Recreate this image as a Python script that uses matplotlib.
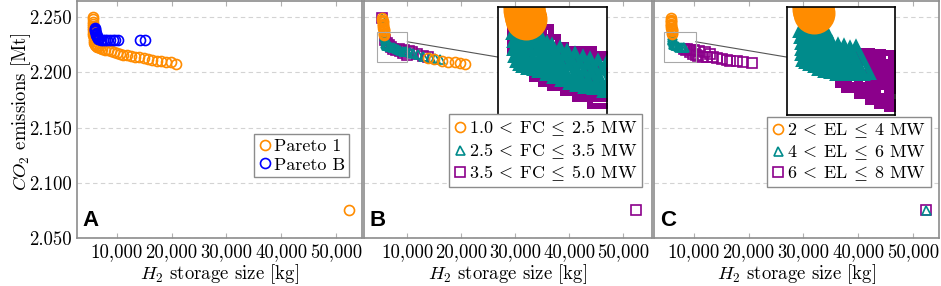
import matplotlib
matplotlib.use("Agg")
import matplotlib.pyplot as plt
from matplotlib.patches import Rectangle, ConnectionPatch
from matplotlib.ticker import FuncFormatter

plt.rcParams['font.family'] = ['cmr10', 'DejaVu Serif']
plt.rcParams['mathtext.fontset'] = 'cm'
plt.rcParams['axes.formatter.use_mathtext'] = True

# ---- data ----
pareto1_x = [5580, 5590, 5600, 5610, 5620, 5640, 5660, 5680, 5700, 5730, 5760, 5800, 5850,
             5920, 6000, 6150, 6350, 6600, 6900, 7300, 7800, 8300, 8900, 9450, 10000, 10600,
             11200, 11800, 12500, 13300, 14100, 14900, 15700, 16500, 17300, 18100, 19000,
             19900, 20850, 52400]
pareto1_y = [2.250, 2.248, 2.246, 2.244, 2.242, 2.240, 2.238, 2.236, 2.234, 2.232, 2.230, 2.228,
             2.2265, 2.2255, 2.2245, 2.2237, 2.223, 2.2225, 2.222, 2.2212, 2.2205, 2.220, 2.219,
             2.218, 2.2175, 2.217, 2.216, 2.2155, 2.215, 2.2142, 2.2135, 2.2128, 2.212, 2.2113,
             2.2107, 2.2104, 2.2097, 2.209, 2.208, 2.075]
paretoB_x = [6000, 6020, 6050, 6080, 6100, 6150, 6200, 6300, 6400, 6500, 6600, 6800, 7100, 7450,
             7800, 8250, 8730, 9200, 9640, 10240, 14180, 15090]
paretoB_y = [2.240, 2.239, 2.238, 2.237, 2.236, 2.235, 2.234, 2.233, 2.232, 2.231, 2.2305, 2.230,
             2.2295, 2.229, 2.229, 2.229, 2.229, 2.229, 2.229, 2.229, 2.229, 2.229]

# panel B: fuel cell size classes
fc1_x = [5350, 5380, 5410, 5440, 5470, 5500, 5530, 5560, 5590, 5620, 5650, 5680, 5710, 5750,
         13850, 15000, 16330, 17570, 18800, 19720, 20650]
fc1_y = [2.249, 2.2478, 2.2466, 2.2454, 2.2442, 2.243, 2.2418, 2.2406, 2.2394, 2.2382, 2.237,
         2.2358, 2.2346, 2.2335, 2.2128, 2.2118, 2.2104, 2.2097, 2.2092, 2.2088, 2.208]
fc2_x = [5350, 5750, 5790, 5830, 5870, 5950, 6100, 6300, 6550, 6850, 7130, 7500, 7900,
         8300, 8700, 9100, 9500, 9960, 10500, 11070, 12000, 12930, 14170, 15090, 16020]
fc2_y = [2.249, 2.233, 2.231, 2.229, 2.227, 2.2258, 2.225, 2.2245, 2.224, 2.2237,
         2.2234, 2.2226, 2.2218, 2.221, 2.2203, 2.2197, 2.2193, 2.219, 2.2182, 2.2172, 2.2162,
         2.2152, 2.214, 2.213, 2.212]
fc3_x = [5350, 5800, 6150, 6550, 6950, 7400, 7900, 8545, 9200, 9960, 8400, 9300,
         10200, 10900, 11700, 12930, 13850, 52400]
fc3_y = [2.249, 2.2297, 2.2270, 2.2245, 2.2226, 2.2212, 2.2202, 2.219, 2.2175, 2.2157,
         2.2215, 2.2203, 2.2192, 2.218, 2.2166, 2.215, 2.2135, 2.075]

# panel C: electrolyser size classes
el1_x = [5750, 5770, 5790, 5810, 5830, 5850, 5870, 5890, 5910, 5930, 5950, 5970, 6000]
el1_y = [2.249, 2.2478, 2.2466, 2.2454, 2.2442, 2.243, 2.2418, 2.2406, 2.2394, 2.2382, 2.237,
         2.236, 2.235]
el2_x = [5950, 6000, 6050, 6080, 6100, 6150, 6300, 6500, 6750, 7000, 7300, 7600,
         7950, 8250, 52400]
el2_y = [2.2335, 2.232, 2.2305, 2.229, 2.2275, 2.226, 2.2255, 2.225, 2.2245, 2.2238,
         2.2234, 2.223, 2.2226, 2.2228, 2.075]
el3_x = [8200, 8800, 9400, 10000, 8500, 9200, 9800, 10300, 11000, 12000,
         13000, 10800, 11500, 12300, 13530, 14300, 15060, 16000, 16590, 17800, 19030, 20560,
         52400]
el3_y = [2.221, 2.2208, 2.2206, 2.2205, 2.2198, 2.2183, 2.2168, 2.2157,
         2.2195, 2.218, 2.2165, 2.215, 2.2142, 2.2138, 2.2135, 2.2127, 2.212, 2.2112, 2.2105,
         2.2103, 2.2096, 2.2081, 2.075]

fc_labels = [r'$1.0\:<\:\mathrm{FC}\:\leq\:2.5$ MW', r'$2.5\:<\:\mathrm{FC}\:\leq\:3.5$ MW',
             r'$3.5\:<\:\mathrm{FC}\:\leq\:5.0$ MW']
el_labels = [r'$2\:<\:\mathrm{EL}\:\leq\:4$ MW', r'$4\:<\:\mathrm{EL}\:\leq\:6$ MW',
             r'$6\:<\:\mathrm{EL}\:\leq\:8$ MW']

ORANGE = '#ff8c00'
BLUE = '#0000ff'
TEAL = '#008b8b'
PURPLE = '#8b008b'
GRAY = '#8c8c8c'

MS = 7.2
MEW = 1.2
ZOOM = 3.6
FS = 13.5

fig = plt.figure(figsize=(9.41, 2.86), dpi=100)
bottom, height = 0.168, 0.83
ax_a = fig.add_axes([0.0818, bottom, 0.3029, height])
ax_b = fig.add_axes([0.3868, bottom, 0.306, height])
ax_c = fig.add_axes([0.695, bottom, 0.3029, height])


def style_axis(ax, show_y, xlim):
    ax.set_xlim(*xlim)
    ax.set_ylim(2.050, 2.265)
    ax.set_xticks([10000, 20000, 30000, 40000, 50000])
    ax.set_yticks([2.05, 2.10, 2.15, 2.20, 2.25])
    ax.xaxis.set_major_formatter(FuncFormatter(lambda v, p: f'{v:,.0f}'))
    ax.yaxis.set_major_formatter(FuncFormatter(lambda v, p: f'{v:.3f}'))
    ax.grid(axis='y', color='#d3d3d3', linestyle=(0, (4, 3)), linewidth=0.8)
    ax.set_axisbelow(True)
    for s in ax.spines.values():
        s.set_color(GRAY)
        s.set_linewidth(1.2)
    ax.tick_params(direction='in', length=3.5, color='#b0b0b0', labelsize=FS,
                   top=True, right=False, pad=4)
    ax.tick_params(axis='y', left=False)
    if not show_y:
        ax.tick_params(axis='y', labelleft=False)
    ax.set_xlabel(r'$H_2$ storage size [kg]', fontsize=FS)
    ax.xaxis.set_label_coords(0.5, -0.103)


def draw(ax, xs, ys, marker, color, label, scale=1.0, z=3):
    ms = MS * scale
    if marker == '^':
        ms = ms * 0.9
    elif marker == 's':
        ms = ms * 0.95
    ax.plot(xs, ys, linestyle='none', marker=marker, markersize=ms,
            markerfacecolor='none', markeredgecolor=color, markeredgewidth=MEW * scale,
            label=label, zorder=z)


def add_inset(ax, series, x0, x1, y0, y1):
    ins = ax.inset_axes([0.465, 0.517, 0.379, 0.454])
    for xs, ys, m, c, z in series:
        draw(ins, xs, ys, m, c, None, scale=ZOOM, z=z)
    ins.set_xlim(x0, x1)
    ins.set_ylim(y0, y1)
    ins.set_xticks([])
    ins.set_yticks([])
    for s in ins.spines.values():
        s.set_color('black')
        s.set_linewidth(1.2)
        s.set_zorder(10)
    ax.add_patch(Rectangle((x0, y0), x1 - x0, y1 - y0, fill=False,
                           edgecolor='#a8a8a8', linewidth=0.8, zorder=6))
    con = ConnectionPatch(xyA=(x1, 2.2277), coordsA=ax.transData,
                          xyB=(0, 0.54), coordsB=ins.transAxes,
                          color='#555555', linewidth=0.8)
    ax.add_artist(con)


def legend(ax, x, y):
    leg = ax.legend(loc='lower right', bbox_to_anchor=(x, y), fontsize=13,
                    handlelength=0.7, handletextpad=0.15, borderpad=0.25,
                    labelspacing=0.15, borderaxespad=0, fancybox=False,
                    framealpha=1, edgecolor=GRAY)
    leg.get_frame().set_linewidth(1.0)


def panel_letter(ax, letter):
    ax.text(0.02, 0.03, letter, transform=ax.transAxes, fontsize=16,
            fontweight='bold', family='Liberation Sans', ha='left', va='bottom')


# A
style_axis(ax_a, True, (2700, 54800))
draw(ax_a, pareto1_x, pareto1_y, 'o', ORANGE, 'Pareto 1')
draw(ax_a, paretoB_x, paretoB_y, 'o', BLUE, 'Pareto B')
ax_a.set_ylabel(r'$CO_2$ emissions [Mt]', fontsize=FS)
ax_a.yaxis.set_label_coords(-0.155, 0.534)
legend(ax_a, 0.955, 0.256)
panel_letter(ax_a, 'A')

# B
style_axis(ax_b, False, (1950, 55300))
draw(ax_b, fc1_x, fc1_y, 'o', ORANGE, fc_labels[0], z=5)
draw(ax_b, fc2_x, fc2_y, '^', TEAL, fc_labels[1], z=4)
draw(ax_b, fc3_x, fc3_y, 's', PURPLE, fc_labels[2], z=3)
add_inset(ax_b, [(fc3_x, fc3_y, 's', PURPLE, 3), (fc2_x, fc2_y, '^', TEAL, 4),
                 (fc1_x, fc1_y, 'o', ORANGE, 5)], 4300, 9960, 2.2090, 2.2364)
legend(ax_b, 0.964, 0.213)
panel_letter(ax_b, 'B')

# C
style_axis(ax_c, False, (2700, 54800))
draw(ax_c, el1_x, el1_y, 'o', ORANGE, el_labels[0], z=5)
draw(ax_c, el2_x, el2_y, '^', TEAL, el_labels[1], z=4)
draw(ax_c, el3_x, el3_y, 's', PURPLE, el_labels[2], z=3)
add_inset(ax_c, [(el3_x, el3_y, 's', PURPLE, 3), (el2_x, el2_y, '^', TEAL, 4),
                 (el1_x, el1_y, 'o', ORANGE, 5)], 4560, 10310, 2.2090, 2.2364)
legend(ax_c, 0.971, 0.213)
panel_letter(ax_c, 'C')

fig.savefig('out.png', dpi=100)
